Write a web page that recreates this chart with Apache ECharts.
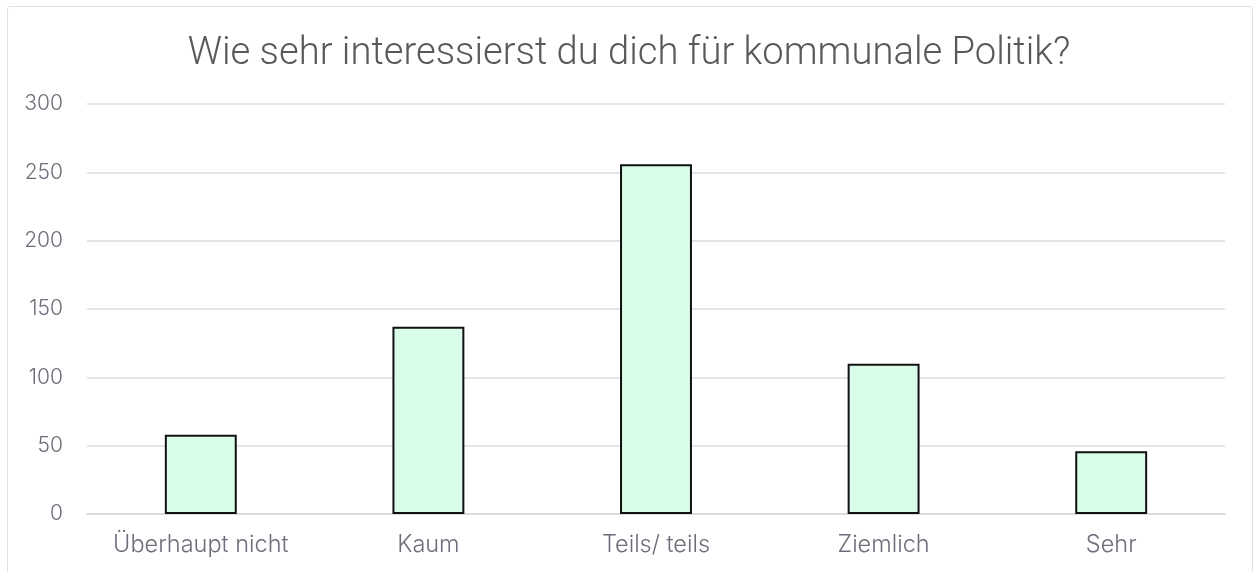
<!DOCTYPE html>
<html>
<head>
<meta charset="utf-8">
<title>Kommunale Politik</title>
<script src="https://cdn.jsdelivr.net/npm/echarts@6/dist/echarts.min.js"></script>
<style>
  html, body { margin: 0; padding: 0; background: #fff; }
  #frame { position: absolute; left: 7px; top: 6px; width: 1244px; height: 600px;
           border: 1.5px solid #e0e0e3; border-radius: 3px; }
  #main { position: absolute; left: 0; top: 0; width: 1255px; height: 572px; }
</style>
</head>
<body>
<div id="frame"></div>
<div id="main"></div>
<script>
// Antwortkategorien und Anzahl
var categories = ['Überhaupt nicht', 'Kaum', 'Teils/ teils', 'Ziemlich', 'Sehr'];
var counts = [58, 137, 256, 110, 46];

var chart = echarts.init(document.getElementById('main'));

chart.setOption({
    animation: false,
    title: {
        text: 'Wie sehr interessierst du dich für kommunale Politik?',
        left: 624,
        textAlign: 'center',
        top: 30,
        textStyle: { fontFamily: 'Roboto', fontSize: 38.2, fontWeight: 300, color: '#595959' }
    },
    grid: { left: 87, right: 30, top: 104, bottom: 58 },
    xAxis: {
        type: 'category',
        data: categories,
        axisTick: { show: false },
        axisLine: { lineStyle: { color: '#dcdce0', width: 2 } },
        axisLabel: { interval: 0, fontFamily: 'Inter', fontSize: 23.5, fontWeight: 300, color: '#6e6e7a', margin: 19 }
    },
    yAxis: {
        type: 'value',
        min: 0,
        max: 300,
        interval: 50,
        axisLine: { show: false },
        axisTick: { show: false },
        splitLine: { lineStyle: { color: '#dcdce0', width: 1.5 } },
        axisLabel: { fontFamily: 'Inter', fontSize: 21, fontWeight: 300, color: '#6e6e7a', margin: 24 }
    },
    series: [{
        type: 'bar',
        data: counts,
        barWidth: '31.6%',
        itemStyle: { color: '#d9fde8', borderColor: '#111', borderWidth: 2 }
    }]
});
</script>
</body>
</html>
